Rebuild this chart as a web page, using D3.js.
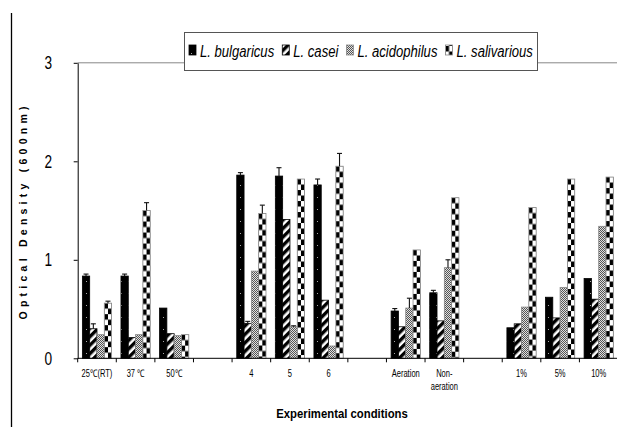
<!DOCTYPE html>
<html>
<head>
<meta charset="utf-8">
<script src="https://cdn.jsdelivr.net/npm/d3@7"></script>
<style>
  body { margin: 0; background: #fff; }
  svg { display: block; }
  text { font-family: "Liberation Sans Narrow", "Arial Narrow", "Liberation Sans", sans-serif; }
</style>
</head>
<body>
<svg width="617" height="427"></svg>
<script>
// slots on the x axis (gaps are empty slots between the condition groups)
const slots = ["25RT", "37C", "50C", "gap1", "pH4", "pH5", "pH6", "gap2", "Aeration", "NonAeration", "gap3", "1%", "5%", "10%"];
const slotLabels = ["25℃(RT)", "37 ℃", "50℃", "", "4", "5", "6", "", "Aeration", "Non-|aeration", "", "1%", "5%", "10%"];
const conditions = ["25RT", "37C", "50C", "pH4", "pH5", "pH6", "Aeration", "NonAeration", "1%", "5%", "10%"];

const seriesNames = ["L. bulgaricus", "L. casei", "L. acidophilus", "L. salivarious"];

// optical density per condition
const bulgaricus = [0.835, 0.835, 0.51, 1.86, 1.85, 1.76, 0.48, 0.665, 0.31, 0.62, 0.81];
const casei = [0.30, 0.21, 0.25, 0.355, 1.41, 0.59, 0.32, 0.38, 0.35, 0.41, 0.60];
const acidophilus = [0.24, 0.24, 0.23, 0.885, 0.32, 0.125, 0.51, 0.92, 0.52, 0.72, 1.34];
const salivarious = [0.56, 1.50, 0.24, 1.47, 1.82, 1.95, 1.10, 1.63, 1.53, 1.82, 1.84];

// upper error bar lengths (0 = none drawn)
const bulgaricusErr = [0.02, 0.02, 0, 0.025, 0.085, 0.06, 0.025, 0.025, 0, 0, 0];
const caseiErr = [0.05, 0, 0, 0.02, 0, 0, 0, 0, 0, 0, 0];
const acidophilusErr = [0, 0, 0, 0, 0.01, 0, 0.1, 0.08, 0, 0, 0];
const salivariousErr = [0.02, 0.08, 0, 0.085, 0, 0.13, 0, 0, 0, 0, 0];

const yTicks = [0, 1, 2, 3];

const allValues = [bulgaricus, casei, acidophilus, salivarious];
const allErrs = [bulgaricusErr, caseiErr, acidophilusErr, salivariousErr];

const bars = [];
conditions.forEach((c, i) => {
    seriesNames.forEach((s, k) => {
        bars.push({ cond: c, series: s, k: k, value: allValues[k][i], err: allErrs[k][i] });
    });
});

const svg = d3.select("svg");
const defs = svg.append("defs");

const x0 = d3.scaleBand().domain(slots).range([77.7, 618]).padding(0);
const x1 = d3.scaleBand().domain(seriesNames).range([0, x0.bandwidth()]).paddingInner(0).paddingOuter(0.64);
const y = d3.scaleLinear().domain([0, 3]).range([358.3, 62.8]);

//窄体文字（没有窄字体，用水平缩放代替）
function narrowText(parent, x, yy, str, sx, size) {
    const g = parent.append("g").attr("transform", `translate(${x},${yy}) scale(${sx},1)`);
    return g.append("text").attr("font-size", size).attr("fill", "#000").text(str);
}

//填充图案
function makePatterns() {
    // black with white specks
    const pb = defs.append("pattern").attr("id", "pat0")
        .attr("patternUnits", "userSpaceOnUse").attr("width", 7).attr("height", 12);
    pb.append("rect").attr("width", 7).attr("height", 12).attr("fill", "#000");
    pb.append("rect").attr("x", 2).attr("y", 5).attr("width", 1).attr("height", 1).attr("fill", "#aaa");

    // wide upward diagonal
    const pc = defs.append("pattern").attr("id", "pat1")
        .attr("patternUnits", "userSpaceOnUse").attr("width", 6).attr("height", 6)
        .attr("patternTransform", "rotate(45)");
    pc.append("rect").attr("width", 6).attr("height", 6).attr("fill", "#fff");
    pc.append("rect").attr("width", 3.4).attr("height", 6).attr("fill", "#000");

    // fine grey dither
    const pa = defs.append("pattern").attr("id", "pat2")
        .attr("patternUnits", "userSpaceOnUse").attr("width", 2).attr("height", 2);
    pa.append("rect").attr("width", 2).attr("height", 2).attr("fill", "#e0e0e0");
    pa.append("rect").attr("width", 1).attr("height", 1).attr("fill", "#555");
    pa.append("rect").attr("x", 1).attr("y", 1).attr("width", 1).attr("height", 1).attr("fill", "#555");
}
makePatterns();

// checkerboard, one per bar so the two columns line up with the bar
function checkerPattern(id, bx, bw, by) {
    const p = defs.append("pattern").attr("id", id)
        .attr("patternUnits", "userSpaceOnUse")
        .attr("x", bx).attr("y", by).attr("width", bw).attr("height", 11);
    p.append("rect").attr("width", bw).attr("height", 11).attr("fill", "#fff");
    p.append("rect").attr("width", bw / 2).attr("height", 5.5).attr("fill", "#000");
    p.append("rect").attr("x", bw / 2).attr("y", 5.5).attr("width", bw / 2).attr("height", 5.5).attr("fill", "#000");
    return `url(#${id})`;
}

const strokes = ["#000", "#000", "#888", "#888"];

// left frame line
svg.append("line").attr("x1", 11.5).attr("x2", 11.5).attr("y1", 13).attr("y2", 427)
    .attr("stroke", "#000").attr("stroke-width", 1.3);

// top plot border
svg.append("line").attr("x1", x0.range()[0]).attr("x2", 617).attr("y1", y(3)).attr("y2", y(3))
    .attr("stroke", "#888").attr("stroke-width", 1);

// bars
const barG = svg.append("g");
bars.forEach((d, i) => {
    const bx = x0(d.cond) + x1(d.series);
    const bw = x1.bandwidth();
    let fill = `url(#pat${d.k})`;
    if (d.k === 3) fill = checkerPattern(`chk${i}`, bx, bw, y(d.value));
    barG.append("rect")
        .attr("x", bx).attr("y", y(d.value))
        .attr("width", bw).attr("height", y(0) - y(d.value))
        .attr("fill", fill)
        .attr("stroke", strokes[d.k]).attr("stroke-width", 0.8);
});

// error bars
const errG = svg.append("g").attr("stroke", "#111").attr("stroke-width", 1.1);
bars.filter(d => d.err > 0).forEach(d => {
    const cx = x0(d.cond) + x1(d.series) + x1.bandwidth() / 2;
    errG.append("line").attr("x1", cx).attr("x2", cx).attr("y1", y(d.value)).attr("y2", y(d.value + d.err));
    errG.append("line").attr("x1", cx - 2.5).attr("x2", cx + 2.5).attr("y1", y(d.value + d.err)).attr("y2", y(d.value + d.err));
});

// y axis
const yAxis = svg.append("g").attr("transform", `translate(${x0.range()[0]},0)`)
    .call(d3.axisLeft(y).tickValues(yTicks).tickFormat(d3.format("d")).tickSize(4).tickSizeOuter(0));
yAxis.select(".domain").attr("stroke", "#000");
yAxis.selectAll("text")
    .attr("x", 0).attr("font-size", 19).attr("fill", "#000").attr("text-anchor", "middle")
    .attr("transform", "translate(-29.5,0) scale(0.72,1)");

// x axis (ticks at slot boundaries)
const xg = svg.append("g");
xg.append("line").attr("x1", x0.range()[0]).attr("x2", 617).attr("y1", y(0)).attr("y2", y(0))
    .attr("stroke", "#000");
const bounds = slots.map(s => x0(s)).concat([x0.range()[1]]);
xg.selectAll(".tk").data(bounds).enter().append("line")
    .attr("x1", d => d).attr("x2", d => d).attr("y1", y(0)).attr("y2", y(0) + 4)
    .attr("stroke", "#000");
slots.forEach((s, i) => {
    slotLabels[i].split("|").forEach((p, j) => {
        narrowText(xg, x0(s) + x0.bandwidth() / 2, 377 + j * 13, p, 0.72, 10.5)
            .attr("text-anchor", "middle");
    });
});

// axis titles
narrowText(svg, 342, 418, "Experimental conditions", 0.84, 13.5)
    .attr("text-anchor", "middle").attr("font-weight", "bold");

svg.append("text").attr("transform", "translate(27,213) rotate(-90)")
    .attr("text-anchor", "middle").attr("font-size", 10.5).attr("font-weight", "bold")
    .style("font-family", "'Liberation Sans', Arial, sans-serif")
    .attr("textLength", 213).attr("lengthAdjust", "spacing")
    .text("Optical Density (600nm)");

// legend
const legend = svg.append("g");
const legLeft = 189, legRight = 533, swW = 7, swGap = 4, itemGap = 8;
legend.append("rect").attr("x", 184.5).attr("y", 32.5).attr("width", 353).attr("height", 38)
    .attr("fill", "#fff").attr("stroke", "#555").attr("stroke-width", 1);
// measure natural widths, then squeeze the labels to fit the box
const probe = legend.append("text").attr("font-size", 17).attr("font-style", "italic");
const natural = seriesNames.map(s => { probe.text(s); return probe.node().getComputedTextLength(); });
probe.remove();
const avail = legRight - legLeft - seriesNames.length * (swW + swGap) - (seriesNames.length - 1) * itemGap;
const sx = avail / d3.sum(natural);
let lx = legLeft;
seriesNames.forEach((s, k) => {
    let fill = `url(#pat${k})`;
    if (k === 3) fill = checkerPattern("chkLeg", lx, swW, 46);
    legend.append("rect").attr("x", lx).attr("y", 45).attr("width", swW).attr("height", 10)
        .attr("fill", fill).attr("stroke", strokes[k]).attr("stroke-width", 0.8);
    narrowText(legend, lx + swW + swGap, 56.5, s, sx, 17).attr("font-style", "italic");
    lx += swW + swGap + natural[k] * sx + itemGap;
});
</script>
</body>
</html>
